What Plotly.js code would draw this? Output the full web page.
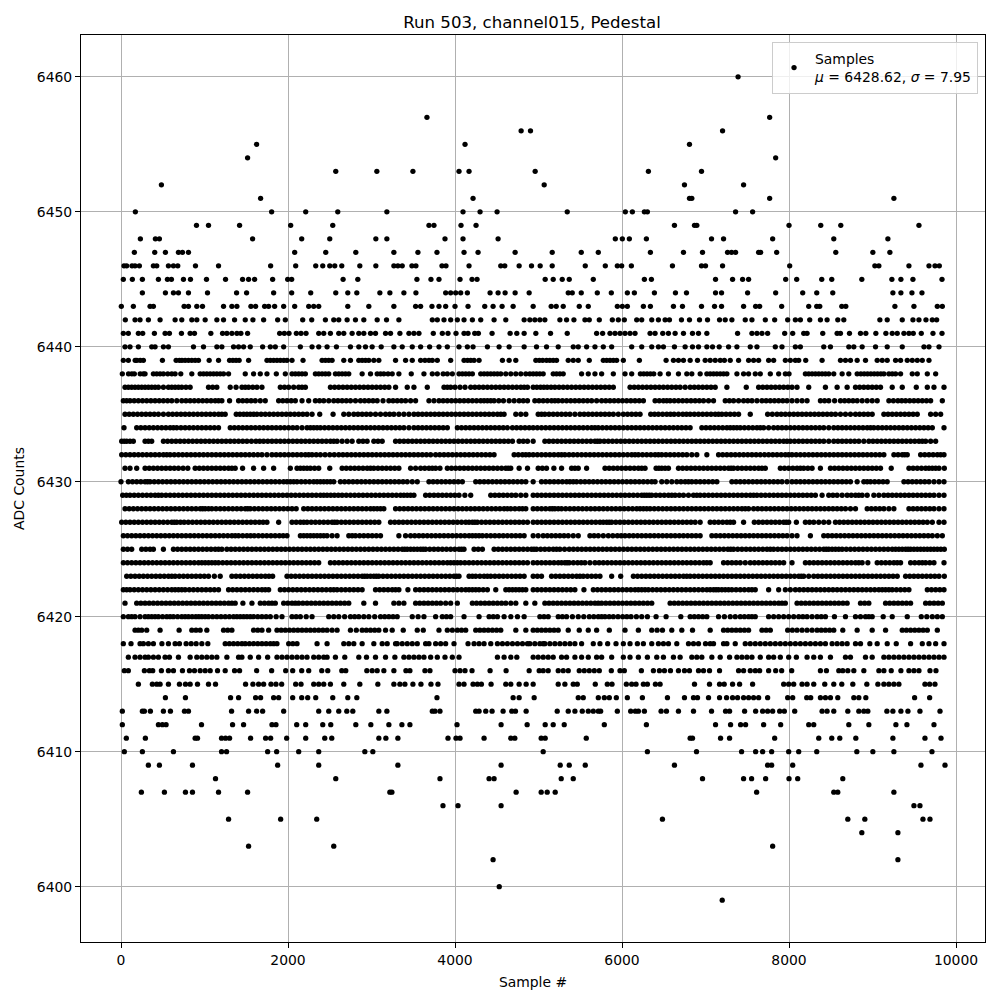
<!DOCTYPE html>
<html><head><meta charset="utf-8">
<script src="https://cdn.plot.ly/plotly-3.0.0.min.js"></script>
<style>html,body{margin:0;padding:0;background:#fff}</style></head>
<body><div id="chart" style="width:1000px;height:1000px"></div>
<script>
const chartTitle = "Run 503, channel015, Pedestal";
const xLabel = "Sample #";
const yLabel = "ADC Counts";
const legendText = "Samples<br><i>μ</i> = 6428.62, <i>σ</i> = 7.95";
const xTicks = [0,2000,4000,6000,8000,10000];
const yTicks = [6400,6410,6420,6430,6440,6450,6460];

const s6460=[7390];
const s6457=[3664,7768];
const s6456=[4792,4904,7204];
const s6455=[1624,4120,6808];
const s6454=[1516,7840];
const s6453=[2572,3064,3496,4048,4168,4960,6316,6952];
const s6452=[484,5068,6748,7456];
const s6451=[1672,4216,6808,6836,7768,9256];
const s6450=[172,1804,2212,2596,3184,4096,4300,4504,5344,6040,6124,6268,6304,7360,7564];
const s6449=[904,1048,1420,2032,2536,3688,3748,4072,4252,6628,6868,6896,8000,8380,8620,9556];
const s6448=[232,412,460,1576,2164,2500,3052,3184,3880,4096,4516,5920,6004,6088,6292,7072,7216,7804,8536,9184];
const s6447=[160,404,532,688,736,808,2080,2452,2812,3268,3556,3784,4108,4276,4720,5164,5512,5716,6340,6736,6964,7264,7312,7360,7636,7660,7852,8560,9004,9208];
const s6446=[36,68,132,168,220,388,428,568,628,680,892,1168,1792,2092,2332,2416,2500,2560,2644,2860,3052,3268,3316,3368,3484,3532,3844,3892,4168,4548,4596,4768,4916,5020,5164,5560,5800,5944,5996,6112,6604,6952,7000,7204,8008,9028,9076,9436,9676,9748,9800];
const s6445=[28,136,256,448,556,604,748,832,1024,1252,1456,1528,1600,1816,1996,2044,2660,2836,3544,3712,3808,4060,4204,4264,5080,5176,5284,5368,5656,6268,6352,7120,7324,7444,7516,7960,8092,8392,8512,8872,9232,9340,9484,9832];
const s6444=[256,532,628,688,808,1036,1384,1504,1828,2044,2272,2572,2716,2824,3100,3220,3388,3532,3888,3948,4008,4068,4148,4420,4516,4600,4720,4888,5356,5404,5512,5704,5872,6064,6148,6388,6640,6772,7120,7192,7504,7840,8164,8332,8524,9244,9340,9472,9592];
const s6443=[4,148,348,388,756,808,908,976,1228,1328,1388,1556,1612,1720,1768,1840,1948,2080,2248,2308,2368,2716,2968,3268,3528,3588,3724,3808,3888,4000,4156,4356,4456,4564,4696,4936,5152,5212,5296,5488,5596,5944,6004,6064,6256,6340,6616,6724,6952,7108,7192,7456,7600,7648,7912,8236,8332,8368,8632,8680,9268,9496,9776,9836];
const s6442=[52,168,228,328,468,648,728,848,908,1008,1148,1228,1360,1488,1580,1708,1876,1968,2176,2284,2448,2548,2608,2708,2808,2908,3068,3180,3328,3728,3788,3868,3948,4028,4108,4208,4308,4468,4608,4828,4896,4956,5016,5076,5256,5336,5424,5556,5608,5728,5884,5956,6028,6176,6236,6356,6436,6516,6568,6712,6808,6928,7024,7168,7236,7316,7476,7556,7716,7828,7984,8076,8136,8248,8376,8456,8584,8656,9088,9176,9356,9484,9556,9640,9716,9768];
const s6441=[28,88,208,260,400,528,580,724,828,880,1076,1216,1268,1328,1388,1436,1516,1900,1956,2012,2100,2156,2216,2368,2428,2508,2608,2668,2768,2848,2908,2988,3048,3168,3228,3340,3448,3508,3568,3740,3848,3916,4012,4108,4156,4236,4280,4444,4660,4740,4828,4968,5144,5344,5696,5768,5856,5916,5976,6036,6096,6156,6336,6396,6488,6556,6636,6736,6844,6916,7016,7384,7556,7616,7676,7744,7948,8044,8176,8216,8404,8576,8616,8724,8856,8920,9040,9160,9236,9296,9376,9436,9488,9584,9724,9832];
const s6440=[48,108,208,368,408,508,568,868,988,1148,1208,1348,1408,1468,1548,1696,1788,1848,1948,2148,2288,2368,2468,2580,2748,2848,2928,3008,3116,3268,3368,3488,3588,3696,3808,3908,4048,4148,4216,4388,4528,4648,4828,4976,5096,5236,5416,5476,5576,5676,5776,5876,6116,6236,6356,6436,6496,6628,6756,6844,6916,7016,7084,7164,7276,7376,7536,7616,7836,7916,8076,8136,8416,8496,8716,8776,8876,9036,9176,9356,9616,9676,9796];
const s6439=[28,88,170,190,230,268,496,660,700,730,768,808,848,888,928,1056,1168,1300,1340,1378,1415,1528,1748,1788,1828,1868,1908,1950,1988,2048,2180,2408,2448,2488,2528,2668,2748,2848,2888,2928,2968,3028,3088,3288,3408,3488,3588,3640,3688,3728,3788,3948,4108,4150,4188,4228,4288,4568,4648,4728,4968,5010,5050,5096,5136,5176,5216,5356,5416,5476,5608,5776,5816,5856,5896,5936,6016,6208,6528,6616,6676,6736,6816,6904,6996,7056,7116,7176,7226,7296,7396,7516,7576,7636,7756,7816,7956,8016,8076,8116,8200,8396,8616,8676,8736,8816,8916,9056,9116,9176,9276,9336,9416,9476,9536,9596,9676];
const s6438=[16,90,130,160,230,268,288,388,428,468,508,560,608,648,716,848,948,988,1028,1068,1108,1148,1188,1228,1288,1488,1588,1668,1748,1860,1968,2048,2088,2128,2168,2208,2328,2368,2408,2448,2488,2568,2608,2648,2688,2728,2888,2988,3068,3108,3148,3198,3248,3328,3476,3628,3728,3788,3858,3908,3968,4048,4088,4128,4168,4208,4308,4348,4388,4428,4468,4508,4548,4608,4668,4728,4788,4848,4896,4936,4976,5016,5056,5176,5216,5256,5296,5516,5596,5676,5756,5896,6036,6116,6220,6260,6300,6340,6380,6456,6556,6676,6776,6836,6936,7016,7056,7096,7136,7176,7216,7256,7376,7456,7516,7596,7656,7776,7876,7956,8000,8196,8236,8276,8316,8356,8396,8436,8476,8536,8636,8716,8816,8860,8900,8940,8980,9020,9060,9100,9136,9196,9236,9276,9336,9476,9536,9656,9756];
const s6437=[48,88,128,168,208,248,288,328,368,408,448,508,568,608,648,688,728,778,828,1048,1098,1148,1308,1378,1448,1488,1528,1578,1628,1688,1908,1958,2008,2068,2128,2168,2208,2508,2558,2608,2658,2708,2758,2808,2858,2908,2958,3008,3058,3108,3158,3208,3288,3428,3508,3668,3868,3908,3948,4000,4060,4120,4188,4238,4288,4338,4388,4438,4488,4538,4588,4638,4688,4738,4788,4828,4868,4936,4980,5024,5064,5104,5150,5196,5246,5296,5346,5396,5446,5496,5546,5596,5646,5696,5746,5796,5846,5896,6096,6146,6196,6246,6296,6346,6396,6446,6496,6546,6596,6646,6696,6756,6816,6866,6916,6966,7016,7066,7116,7256,7488,7636,7686,7736,7786,7836,7886,7936,7986,8036,8096,8236,8436,8576,8696,8796,8846,8896,8946,8996,9046,9096,9236,9356,9524,9656,9736,9856];
const s6436=[28,68,108,158,208,258,308,358,408,458,508,558,608,668,728,778,828,878,928,978,1028,1078,1128,1168,1208,1300,1408,1458,1508,1558,1608,1668,1728,1888,1938,1988,2038,2088,2168,2248,2328,2378,2428,2488,2548,2598,2648,2698,2748,2808,2868,2918,2968,3018,3068,3138,3208,3258,3308,3358,3408,3468,3528,3688,3748,3808,3858,3908,3958,4008,4058,4108,4158,4208,4258,4308,4348,4388,4428,4468,4524,4580,4648,4708,4768,4818,4868,4956,5006,5056,5106,5156,5196,5236,5286,5336,5386,5436,5486,5536,5586,5636,5696,5756,5806,5856,5906,5956,6006,6056,6106,6156,6206,6256,6396,6446,6496,6536,6576,6626,6676,6726,6776,6826,6876,6926,6976,7036,7096,7236,7286,7336,7396,7456,7506,7556,7616,7676,7726,7776,7826,7876,7926,7976,8036,8096,8156,8216,8376,8426,8476,8546,8616,8666,8716,8766,8816,8876,8936,8996,9056,9196,9250,9304,9350,9396,9446,9496,9546,9596,9646,9696,9836];
const s6435=[48,98,148,198,248,298,348,398,448,508,568,618,668,718,768,818,868,918,968,1018,1068,1118,1168,1208,1248,1380,1424,1468,1508,1548,1588,1628,1678,1728,1778,1828,1878,1928,1978,2028,2078,2128,2178,2228,2288,2380,2540,2668,2728,2788,2838,2888,2938,2988,3048,3108,3168,3218,3268,3328,3388,3448,3508,3558,3608,3658,3708,3758,3808,3858,3908,3958,4008,4058,4108,4158,4208,4258,4308,4358,4408,4458,4508,4548,4588,4728,4788,4848,4996,5036,5076,5126,5176,5226,5276,5326,5376,5436,5496,5546,5596,5646,5696,5746,5796,5846,5896,5956,6016,6066,6116,6166,6216,6344,6390,6436,6486,6536,6580,6624,6676,6728,6772,6816,6866,6916,6966,7016,7066,7116,7156,7196,7246,7296,7346,7396,7536,7744,7800,7856,7906,7956,8006,8056,8106,8156,8206,8256,8306,8356,8406,8456,8506,8556,8616,8676,8736,8796,8846,8896,8946,8996,9136,9186,9236,9286,9336,9386,9436,9486,9536,9696,9756,9816];
const s6434=[36,188,238,288,338,388,438,488,538,588,628,668,718,768,818,868,918,968,1018,1068,1118,1168,1308,1358,1408,1458,1508,1558,1608,1658,1708,1758,1808,1858,1908,1958,2008,2058,2108,2168,2228,2268,2308,2348,2388,2438,2488,2538,2588,2638,2688,2738,2788,2838,2888,2938,2988,3038,3088,3138,3188,3238,3288,3338,3388,3448,3508,3558,3608,3658,3708,3758,3808,3858,3908,4028,4078,4128,4178,4228,4278,4328,4378,4428,4478,4528,4578,4628,4688,4738,4788,4838,4888,4936,4986,5036,5086,5136,5186,5236,5286,5336,5386,5436,5486,5536,5586,5636,5676,5716,5766,5816,5866,5916,5966,6016,6066,6116,6166,6216,6266,6316,6366,6416,6466,6516,6566,6616,6666,6716,6766,6816,6956,7006,7056,7106,7156,7206,7256,7296,7336,7376,7416,7466,7516,7566,7616,7656,7696,7756,7816,7866,7916,7966,8016,8066,8116,8166,8216,8266,8316,8366,8416,8476,8536,8586,8636,8686,8736,8786,8836,8886,8936,8976,9016,9066,9116,9166,9216,9266,9316,9366,9416,9466,9516,9566,9616,9666,9716,9856];
const s6433=[8,38,68,108,148,288,328,368,508,558,608,658,708,758,808,858,908,958,1008,1058,1108,1158,1208,1258,1308,1358,1408,1458,1508,1562,1616,1662,1708,1758,1808,1858,1908,1958,2008,2058,2108,2158,2208,2258,2308,2358,2408,2458,2508,2548,2588,2648,2708,2768,2848,2898,2948,3028,3078,3128,3288,3338,3388,3438,3488,3538,3588,3638,3688,3738,3788,3838,3888,3938,3988,4038,4088,4138,4188,4238,4288,4338,4388,4438,4488,4538,4588,4638,4688,4768,4818,4868,4936,5076,5126,5176,5226,5276,5326,5376,5426,5476,5526,5576,5626,5676,5706,5736,5786,5836,5886,5936,5986,6036,6086,6136,6186,6236,6286,6336,6386,6436,6486,6536,6586,6636,6686,6736,6786,6836,6886,6936,6986,7036,7086,7136,7186,7236,7286,7336,7386,7436,7486,7536,7586,7636,7686,7736,7786,7836,7886,7936,7976,8016,8066,8116,8166,8216,8266,8316,8366,8416,8476,8536,8586,8636,8686,8736,8786,8836,8896,8956,9006,9056,9106,9156,9206,9256,9306,9356,9406,9456,9506,9556,9596,9636,9696,9756];
const s6432=[8,58,108,158,208,258,308,358,408,458,508,548,588,638,688,738,788,838,888,938,988,1038,1088,1138,1188,1238,1288,1338,1388,1438,1488,1538,1588,1638,1688,1748,1808,1858,1908,1958,2008,2058,2108,2158,2208,2248,2288,2338,2388,2444,2500,2554,2608,2658,2708,2758,2808,2858,2908,2958,3008,3058,3108,3158,3208,3258,3308,3358,3408,3458,3508,3558,3608,3658,3708,3768,3818,3868,3918,3968,4018,4068,4118,4168,4218,4268,4318,4368,4418,4468,4708,4758,4808,4848,4888,4936,4986,5036,5086,5136,5186,5236,5276,5316,5366,5416,5466,5516,5566,5616,5666,5716,5766,5816,5866,5916,5966,6016,6066,6116,6156,6196,6246,6296,6346,6396,6436,6476,6526,6576,6626,6676,6726,6776,6836,6896,7016,7156,7206,7256,7306,7356,7406,7456,7506,7556,7606,7656,7706,7756,7806,7856,7906,7956,7996,8036,8086,8136,8186,8236,8286,8336,8386,8436,8486,8536,8586,8636,8686,8736,8786,8836,8886,8936,8986,9036,9086,9136,9256,9306,9356,9386,9416,9576,9626,9676,9726,9776,9816,9856];
const s6431=[48,108,188,288,338,388,438,488,538,588,638,688,744,800,888,938,988,1038,1088,1138,1188,1238,1288,1328,1368,1456,1588,1708,1828,2028,2108,2148,2188,2228,2268,2318,2368,2500,2648,2698,2748,2798,2848,2898,2948,2988,3028,3078,3128,3178,3228,3278,3328,3468,3528,3588,3638,3688,3728,3768,3820,3908,3958,4008,4058,4108,4158,4208,4258,4308,4358,4408,4458,4508,4558,4608,4638,4668,4768,4868,4996,5046,5096,5184,5276,5396,5436,5476,5576,5796,5846,5896,5946,5996,6046,6096,6146,6196,6236,6276,6408,6442,6476,6516,6556,6676,6726,6776,6826,6876,6926,6976,7026,7076,7126,7176,7226,7276,7306,7336,7386,7436,7486,7536,7586,7636,7676,7716,7896,7946,7996,8046,8096,8136,8176,8226,8276,8376,8496,8546,8596,8646,8696,8746,8796,8846,8896,8946,8996,9046,9096,9224,9436,9486,9536,9586,9636,9676,9716,9756,9796,9860];
const s6430=[0,88,138,188,238,288,318,348,398,448,498,548,598,648,698,748,798,848,898,948,998,1048,1098,1148,1198,1248,1298,1348,1398,1448,1498,1548,1598,1648,1698,1748,1798,1848,1898,1948,1988,2028,2068,2108,2158,2208,2258,2308,2348,2388,2428,2468,2508,2548,2628,2678,2728,2778,2828,2878,2928,2978,3028,3078,3128,3178,3228,3278,3328,3378,3428,3488,3548,3688,3738,3788,3838,3888,3938,3988,4038,4088,4248,4298,4348,4398,4448,4498,4548,4598,4648,4698,4748,4798,4848,4936,5036,5086,5136,5186,5236,5286,5336,5376,5416,5456,5506,5556,5606,5656,5706,5756,5806,5856,5906,5956,6006,6056,6106,6156,6206,6256,6306,6356,6396,6476,6536,6596,6656,6706,6756,6796,6836,6886,6936,6986,7036,7086,7136,7316,7366,7416,7466,7516,7566,7616,7666,7716,7766,7816,7866,7916,7976,8036,8086,8136,8186,8236,8286,8336,8386,8436,8486,8536,8586,8636,8686,8736,8816,8896,8936,8976,9026,9076,9126,9176,9376,9426,9476,9526,9576,9626,9676,9736,9796,9856];
const s6429=[20,64,108,158,208,258,308,358,408,448,488,538,588,638,688,738,788,838,888,938,988,1038,1088,1138,1188,1238,1288,1338,1388,1438,1488,1538,1588,1638,1688,1738,1788,1838,1888,1938,1988,2038,2088,2138,2188,2238,2288,2338,2388,2428,2468,2512,2556,2602,2648,2698,2748,2798,2848,2898,2948,2998,3048,3098,3148,3198,3248,3298,3348,3388,3428,3468,3508,3648,3698,3748,3798,3848,3898,3948,3998,4048,4118,4188,4428,4478,4528,4578,4628,4678,4728,4788,4848,4936,4986,5036,5086,5136,5186,5236,5286,5336,5386,5436,5486,5536,5586,5636,5686,5736,5786,5836,5886,5936,5986,6036,6086,6136,6186,6236,6266,6296,6326,6356,6406,6456,6506,6556,6596,6636,6686,6736,6796,6856,6896,6936,6986,7036,7086,7136,7186,7236,7286,7336,7386,7436,7486,7536,7576,7616,7666,7716,7766,7816,7866,7916,7966,8016,8066,8116,8166,8216,8266,8316,8396,8476,8526,8576,8636,8696,8746,8796,8836,8876,8936,9016,9076,9136,9186,9236,9286,9336,9386,9436,9486,9536,9586,9636,9686,9736,9796,9856];
const s6428=[48,98,148,198,248,298,348,398,448,498,548,598,648,698,748,798,848,898,948,978,1008,1048,1088,1138,1188,1238,1288,1338,1388,1438,1488,1518,1548,1598,1648,1698,1748,1798,1848,1898,1948,1998,2048,2098,2188,2238,2288,2338,2388,2438,2488,2538,2588,2638,2688,2738,2788,2838,2888,2938,2988,3028,3068,3108,3148,3288,3338,3388,3438,3488,3538,3588,3638,3688,3738,3788,3838,3888,3938,3988,4038,4088,4138,4188,4238,4288,4338,4388,4438,4488,4538,4588,4628,4668,4718,4768,4808,4848,4936,4986,5036,5086,5136,5166,5196,5236,5276,5326,5376,5426,5476,5526,5576,5626,5676,5726,5776,5826,5876,5926,5976,6026,6076,6126,6176,6216,6256,6296,6336,6386,6436,6486,6536,6586,6636,6686,6736,6786,6836,6886,6936,6986,7036,7086,7136,7186,7236,7286,7336,7386,7436,7476,7516,7576,7626,7676,7726,7776,7826,7876,7926,7976,8026,8076,8126,8176,8226,8276,8326,8376,8426,8476,8526,8576,8626,8676,8736,8796,8936,8986,9036,9086,9136,9196,9256,9436,9486,9536,9586,9636,9686,9736,9796,9856];
const s6427=[8,58,108,158,208,258,308,358,408,458,508,558,608,638,668,712,756,806,856,906,956,1006,1056,1106,1156,1206,1256,1306,1356,1406,1456,1506,1556,1606,1656,1702,1748,1888,2048,2098,2148,2188,2228,2278,2328,2378,2428,2478,2528,2558,2588,2638,2688,2738,2788,2838,2888,2938,2988,3038,3088,3228,3278,3328,3378,3428,3478,3528,3578,3628,3678,3728,3778,3828,3878,3928,3978,4028,4078,4128,4168,4208,4238,4268,4318,4368,4418,4468,4518,4568,4618,4668,4718,4768,4818,4868,4936,4986,5036,5086,5136,5186,5236,5286,5336,5386,5436,5486,5536,5586,5636,5686,5736,5776,5816,5846,5876,5926,5976,6026,6076,6126,6176,6226,6276,6326,6376,6426,6476,6526,6576,6626,6676,6726,6776,6826,6876,6936,7056,7106,7156,7206,7256,7296,7336,7456,7584,7636,7686,7736,7786,7836,7886,7936,7966,7996,8088,8196,8246,8296,8356,8416,8476,8556,8606,8656,8706,8756,8806,8856,8906,8956,9006,9056,9106,9156,9206,9256,9306,9356,9406,9456,9506,9556,9606,9656,9716,9796,9856];
const s6426=[28,78,128,178,228,278,328,378,428,478,528,578,628,678,728,778,828,878,928,978,1028,1078,1128,1178,1228,1278,1328,1368,1408,1458,1508,1552,1596,1646,1696,1746,1796,1846,1896,1942,1988,2148,2188,2228,2268,2308,2348,2388,2428,2468,2528,2588,2728,2768,2808,2858,2908,2958,3008,3058,3108,3328,3408,3468,3518,3568,3618,3668,3718,3768,3818,3868,3918,3968,4018,4068,4118,4168,4208,4248,4288,4328,4378,4428,4478,4528,4578,4628,4678,4728,4778,4828,4936,4996,5056,5106,5156,5206,5256,5306,5356,5416,5476,5616,5666,5716,5776,5836,5890,5944,5990,6036,6086,6136,6186,6236,6286,6336,6386,6436,6486,6536,6586,6636,6686,6736,6786,6836,6886,6936,7076,7126,7176,7226,7276,7326,7376,7426,7476,7526,7576,7626,7676,7726,7776,7826,7876,7926,7976,8036,8096,8256,8416,8466,8516,8566,8616,8666,8716,8766,8816,8866,8916,8966,9016,9066,9116,9166,9216,9266,9316,9366,9416,9466,9516,9566,9616,9666,9716,9776,9836];
const s6425=[28,78,128,248,298,348,388,508,628,678,728,778,828,878,928,978,1028,1078,1128,1168,1208,1268,1318,1368,1418,1468,1518,1568,1618,1668,1718,1768,1818,1868,1918,1968,2018,2068,2118,2168,2218,2268,2318,2368,2418,2468,2518,2568,2618,2668,2718,2768,2818,2868,2918,2968,3018,3068,3118,3168,3218,3268,3318,3368,3398,3428,3468,3508,3548,3588,3618,3648,3698,3748,3798,3848,3898,3948,3998,4048,4078,4108,4228,4278,4328,4468,4518,4568,4618,4668,4718,4768,4818,4868,4916,4946,4976,5026,5076,5126,5176,5216,5256,5312,5368,5418,5468,5518,5568,5618,5668,5718,5768,5818,5868,5918,5968,6018,6068,6118,6168,6218,6268,6318,6368,6418,6468,6518,6568,6618,6668,6718,6768,6818,6868,6918,6968,7018,7068,7118,7168,7218,7268,7302,7336,7386,7436,7486,7536,7586,7636,7686,7736,7776,7816,7866,7916,7966,8016,8066,8116,8166,8216,8266,8316,8366,8416,8446,8476,8516,8556,8596,8636,8686,8736,8786,8836,8886,8936,8986,9036,9086,9136,9186,9236,9276,9316,9356,9396,9426,9456,9496,9536,9576,9616,9656,9696,9736,9776,9818,9860];
const s6424=[28,78,128,178,228,278,328,378,428,478,528,578,628,678,728,778,828,878,928,968,1008,1048,1088,1128,1168,1218,1268,1318,1368,1418,1468,1518,1568,1618,1668,1718,1768,1818,1868,1918,1968,2018,2068,2118,2168,2218,2268,2318,2368,2508,2558,2608,2658,2708,2758,2808,2858,2908,2958,3008,3058,3108,3158,3208,3258,3308,3358,3408,3458,3508,3558,3608,3658,3708,3758,3808,3858,3908,3948,3988,4028,4068,4118,4168,4218,4268,4318,4368,4418,4468,4518,4568,4618,4668,4718,4768,4818,4868,4936,4986,5036,5086,5136,5186,5236,5276,5316,5342,5368,5418,5468,5512,5556,5616,5676,5726,5776,5826,5876,5926,5976,6026,6076,6126,6176,6226,6276,6326,6376,6426,6476,6526,6576,6626,6676,6726,6776,6826,6876,6926,6976,7016,7056,7216,7266,7316,7366,7416,7476,7536,7586,7636,7686,7736,7786,7836,7886,7936,8036,8196,8246,8296,8346,8396,8446,8496,8546,8596,8646,8696,8746,8796,8836,8876,8944,9056,9106,9156,9206,9256,9296,9336,9456,9506,9556,9596,9636,9686,9736,9856];
const s6423=[68,118,168,218,268,318,368,418,468,518,568,608,648,698,748,798,848,898,948,998,1048,1118,1188,1328,1378,1428,1478,1528,1578,1628,1678,1728,1772,1816,1988,2038,2088,2138,2188,2238,2288,2338,2388,2438,2488,2538,2588,2638,2688,2738,2788,2838,2888,2918,2948,2988,3028,3058,3088,3138,3188,3238,3288,3338,3388,3438,3488,3538,3588,3638,3688,3738,3788,3838,3888,3938,3988,4018,4048,4168,4208,4248,4298,4348,4388,4428,4478,4528,4578,4628,4678,4728,4778,4828,4936,4986,5036,5156,5206,5256,5306,5356,5406,5456,5496,5536,5586,5636,5686,5736,5876,5984,6136,6186,6236,6286,6336,6386,6436,6486,6536,6586,6636,6686,6736,6776,6816,6866,6916,6966,7016,7066,7116,7166,7216,7266,7316,7366,7416,7466,7516,7566,7616,7666,7716,7766,7816,7866,7916,7966,8016,8066,8116,8146,8176,8236,8296,8346,8396,8446,8496,8546,8596,8646,8696,8746,8796,8846,8896,8946,8996,9046,9096,9146,9196,9246,9296,9396,9446,9496,9546,9596,9646,9696,9746,9796,9860];
const s6422=[28,68,108,158,208,258,308,358,408,458,508,558,608,648,688,728,768,818,868,918,968,1018,1068,1118,1168,1288,1338,1388,1438,1488,1538,1588,1638,1688,1728,1768,1908,1958,2008,2058,2108,2158,2208,2258,2308,2358,2408,2458,2508,2548,2588,2638,2688,2738,2788,2838,2888,3048,3098,3148,3198,3248,3288,3328,3436,3528,3578,3628,3678,3728,3778,3828,3878,3928,3978,4028,4078,4128,4168,4208,4248,4288,4338,4388,4488,4608,4648,4688,4728,4768,4808,4848,4936,4986,5036,5086,5136,5186,5236,5286,5336,5386,5436,5544,5656,5706,5756,5806,5856,5906,5956,6006,6056,6106,6156,6196,6236,6276,6316,6366,6416,6466,6516,6566,6616,6666,6716,6766,6816,6866,6916,6966,7016,7056,7096,7126,7156,7196,7236,7276,7316,7366,7416,7466,7516,7556,7596,7756,7876,7956,8016,8076,8126,8176,8226,8276,8326,8376,8426,8476,8526,8576,8626,8676,8726,8776,8826,8876,8926,8976,9026,9076,9116,9156,9196,9236,9286,9336,9386,9436,9656,9706,9756,9806,9856];
const s6421=[48,188,238,288,338,388,438,488,538,588,638,688,738,788,838,888,938,988,1038,1088,1138,1188,1238,1288,1328,1368,1460,1568,1668,1718,1768,1808,1848,1948,1998,2048,2088,2128,2178,2228,2278,2328,2378,2428,2478,2528,2578,2628,2678,2728,2908,3048,3268,3328,3388,3528,3578,3628,3678,3728,3778,3828,3888,3948,4028,4208,4258,4308,4358,4408,4458,4508,4558,4608,4668,4728,4848,4956,5076,5126,5176,5226,5276,5326,5376,5426,5476,5526,5576,5626,5676,5716,5756,5806,5856,5906,5956,6006,6056,6106,6156,6206,6256,6306,6356,6576,6626,6676,6726,6776,6826,6876,6926,6976,7026,7076,7126,7176,7226,7276,7326,7376,7426,7476,7526,7576,7626,7676,7726,7776,7826,7876,7916,7956,8096,8146,8196,8246,8296,8346,8396,8446,8496,8546,8596,8646,8696,8856,8906,8956,9156,9206,9256,9306,9356,9406,9456,9636,9686,9736,9786,9836];
const s6420=[28,88,128,168,228,288,328,368,408,448,498,548,588,628,678,728,768,808,852,896,932,968,1008,1048,1098,1148,1198,1248,1298,1348,1388,1428,1468,1508,1548,1588,1638,1688,1738,1788,1858,1928,2048,2098,2148,2218,2288,2488,2548,2608,2678,2748,2798,2848,2908,2968,3038,3108,3158,3208,3258,3308,3488,3558,3628,3768,3848,3898,3948,4108,4288,4408,4458,4508,4588,4668,4748,4828,5016,5066,5116,5236,5286,5336,5406,5476,5542,5608,5662,5716,5756,5796,5846,5896,5952,6008,6058,6108,6172,6236,6304,6408,6528,6704,6816,6866,6916,6966,7016,7156,7226,7296,7356,7416,7466,7516,7556,7596,7756,7816,7876,7936,7996,8056,8116,8166,8216,8276,8336,8386,8436,8544,8676,8796,8856,8916,8956,8996,9128,9236,9416,9584,9650,9716,9776,9836];
const s6419=[168,208,248,308,468,696,848,898,948,1028,1228,1278,1328,1588,1638,1688,1768,1868,1918,1968,2018,2068,2118,2168,2218,2268,2318,2368,2418,2468,2528,2588,2748,2818,2888,2938,2988,3038,3088,3168,3248,3380,3548,3620,3808,3908,3968,4028,4078,4128,4248,4298,4348,4398,4448,4498,4548,4728,4848,4936,4986,5036,5086,5136,5186,5236,5356,5488,5596,5696,5848,6036,6196,6356,6420,6484,6596,6716,6844,7056,7216,7266,7316,7366,7416,7466,7516,7676,7726,7776,7984,8040,8096,8156,8216,8276,8336,8386,8436,8486,8536,8644,8816,8996,9156,9356,9406,9456,9506,9556,9606,9656,9776];
const s6418=[28,120,228,268,328,388,490,568,648,700,780,840,900,968,1040,1248,1298,1348,1398,1448,1488,1538,1588,1638,1688,1738,1788,1828,1868,2008,2058,2108,2348,2468,2668,2728,2788,2888,3028,3128,3188,3288,3308,3368,3428,3488,3548,3648,3688,3768,3828,3888,3988,4156,4228,4288,4348,4428,4508,4568,4628,4688,4748,4808,4868,4896,4956,5016,5056,5076,5136,5196,5256,5316,5376,5436,5516,5656,5736,5828,5928,6016,6096,6184,6256,6356,6436,6496,6556,6656,6796,6856,6916,7000,7056,7096,7216,7256,7356,7476,7536,7596,7656,7716,7776,7836,7896,7956,8016,8076,8136,8196,8256,8316,8376,8436,8516,8576,8636,8696,8796,8856,8968,9056,9176,9284,9456,9596,9676,9756,9856];
const s6417=[88,168,228,288,328,388,448,528,580,688,828,908,968,1028,1088,1148,1268,1408,1448,1548,1648,1756,1868,1928,1988,2048,2108,2168,2228,2308,2368,2428,2468,2568,2680,2848,2940,3048,3168,3280,3388,3448,3508,3568,3628,3708,3788,3880,3968,4048,4508,4588,4668,4740,4936,4996,5056,5116,5176,5276,5336,5436,5516,5596,5696,5756,5876,6016,6096,6196,6304,6416,6496,6616,6696,6836,6896,6956,7076,7176,7288,7376,7436,7496,7556,7656,7756,7816,7896,7996,8088,8216,8296,8376,8496,8676,8736,8916,8996,9136,9196,9256,9316,9376,9436,9496,9556,9616,9676,9736,9796,9856];
const s6416=[40,88,280,340,380,484,568,628,736,820,880,948,1008,1068,1156,1248,1360,1420,1624,1804,1972,2056,2164,2248,2404,2476,2644,2692,2944,3008,3068,3148,3268,3412,3460,3640,3700,4000,4060,4120,4204,4420,4612,4888,5008,5056,5116,5236,5296,5356,5488,5548,5608,5668,5728,5872,5976,6028,6232,6376,6448,6508,6580,6676,6748,6808,6916,6976,7048,7168,7396,7456,7536,7596,7648,7756,7840,7912,8032,8376,8448,8596,8644,8704,8776,8896,9076,9136,9224,9340,9436,9496,9556,9688,9760];
const s6415=[208,376,428,468,568,700,772,828,916,1048,1132,1492,1580,1648,1708,1796,1856,1924,2092,2156,2308,2368,2428,2508,2668,2860,3076,3268,3340,3400,3496,3592,3712,3796,4048,4108,4216,4268,4316,4432,4608,4668,4768,4852,4936,5236,5316,5416,5464,5680,5824,5880,6052,6116,6168,6256,6304,6400,6456,6868,7048,7168,7224,7324,7408,7564,7936,7996,8056,8156,8216,8296,8428,8536,8632,8764,8932,9064,9136,9196,9256,9316,9628,9684,9748];
const s6414=[532,772,1312,1408,1612,1672,1828,1888,2056,2164,2236,2332,2536,2716,2824,3784,4696,4768,4948,5476,5536,5716,5788,5848,5932,6064,6244,6544,6748,6856,6904,7036,7168,7252,7324,7384,7456,7516,7576,7636,7744,7984,8044,8212,8260,8376,8436,8496,8584,8776,8836,8920,9504,9684];
const s6413=[16,256,280,352,508,592,760,808,1324,1528,1624,1696,1948,2368,2488,2608,2704,2776,3088,3184,3728,3760,3820,4248,4288,4368,4444,4576,4680,4724,4852,5224,5356,5436,5524,5596,5656,5716,5744,5944,6104,6160,6196,6268,6468,6532,6676,6856,7072,7240,7288,7468,7600,7684,7744,7804,7888,7944,8068,8396,8456,8536,8704,8836,8896,8944,9172,9244,9340,9424,9568,9808];
const s6412=[16,448,496,540,964,1336,1468,1808,1856,2104,2212,2416,2512,2812,2992,3208,3364,3460,4024,4552,4864,5080,5176,5308,5788,6292,7120,7300,7420,7480,7696,7900,8236,8296,8716,8956,9280,9412,9736];
const s6411=[64,292,888,916,1204,1252,1300,1552,1732,1792,1984,2212,2440,2524,3088,3172,3316,3916,4012,4060,4348,4668,4716,5032,5080,5572,6816,6844,7180,7288,7828,8356,8512,8608,8800,9244,9628,9820];
const s6410=[40,256,628,1204,1264,1756,1864,2128,2368,2920,3016,5056,6304,6892,7432,7600,7684,7792,7996,8116,8332,8812,9004,9256,9712];
const s6409=[328,460,856,1876,2368,3316,4552,5260,5368,5560,6628,7744,7792,8044,9580,9868];
const s6408=[1132,2572,3820,4408,4468,5272,5416,6964,7456,7552,7720,8000,8104,8644];
const s6407=[244,520,772,856,1168,1516,3220,3244,4732,5032,5104,5200,7612,8536,8584,9256];
const s6406=[3856,4036,4552,9496,9568];
const s6405=[1288,1912,2344,6484,8704,8908,9604,9688];
const s6404=[8872,9304];
const s6403=[1528,2548,7804];
const s6402=[4456,9304];
const s6400=[4530];
const s6399=[7200];

const adcLevels=[6460,6457,6456,6455,6454,6453,6452,6451,6450,6449,6448,6447,6446,6445,6444,6443,6442,6441,6440,6439,6438,6437,6436,6435,6434,6433,6432,6431,6430,6429,6428,6427,6426,6425,6424,6423,6422,6421,6420,6419,6418,6417,6416,6415,6414,6413,6412,6411,6410,6409,6408,6407,6406,6405,6404,6403,6402,6400,6399];
const samplesAtLevel=[s6460,s6457,s6456,s6455,s6454,s6453,s6452,s6451,s6450,s6449,s6448,s6447,s6446,s6445,s6444,s6443,s6442,s6441,s6440,s6439,s6438,s6437,s6436,s6435,s6434,s6433,s6432,s6431,s6430,s6429,s6428,s6427,s6426,s6425,s6424,s6423,s6422,s6421,s6420,s6419,s6418,s6417,s6416,s6415,s6414,s6413,s6412,s6411,s6410,s6409,s6408,s6407,s6406,s6405,s6404,s6403,s6402,s6400,s6399];

const xs=[],ys=[];
adcLevels.forEach((lv,i)=>samplesAtLevel[i].forEach(s=>{xs.push(s);ys.push(lv);}));

const font={family:"DejaVu Sans",size:13.9,color:"#000"};
const axisBase={showline:true,mirror:true,linecolor:"#000",linewidth:1,ticks:"outside",ticklen:5,tickwidth:1,tickcolor:"#000",
  showgrid:true,gridcolor:"#b0b0b0",gridwidth:1,zeroline:false,tickformat:"d",tickfont:font,tickmode:"array"};
Plotly.newPlot("chart",[{
  type:"scatter",mode:"markers",x:xs,y:ys,name:legendText,showlegend:true,
  marker:{color:"#000",size:5.3,line:{width:0}}
}],{
  width:1000,height:1000,paper_bgcolor:"#fff",plot_bgcolor:"#fff",
  margin:{l:81,r:15,t:35,b:58,pad:0},
  title:{text:chartTitle,font:{family:"DejaVu Sans",size:16.6,color:"#000"},x:0.532,xanchor:"center",y:0.978,yanchor:"middle"},
  xaxis:{...axisBase,range:[-479,10347],tickvals:xTicks,ticktext:xTicks.map(String),
    title:{text:xLabel,font:font,standoff:10}},
  yaxis:{...axisBase,range:[6395.9,6463.1],tickvals:yTicks,ticktext:yTicks.map(String),
    title:{text:yLabel,font:font,standoff:8}},
  legend:{x:0.9923,xanchor:"right",y:0.9923,yanchor:"top",bgcolor:"rgba(255,255,255,0.8)",bordercolor:"#cccccc",borderwidth:1,
    font:font,itemwidth:32,tracegroupgap:0},
  hovermode:false
},{displayModeBar:false,staticPlot:true});
</script></body></html>
